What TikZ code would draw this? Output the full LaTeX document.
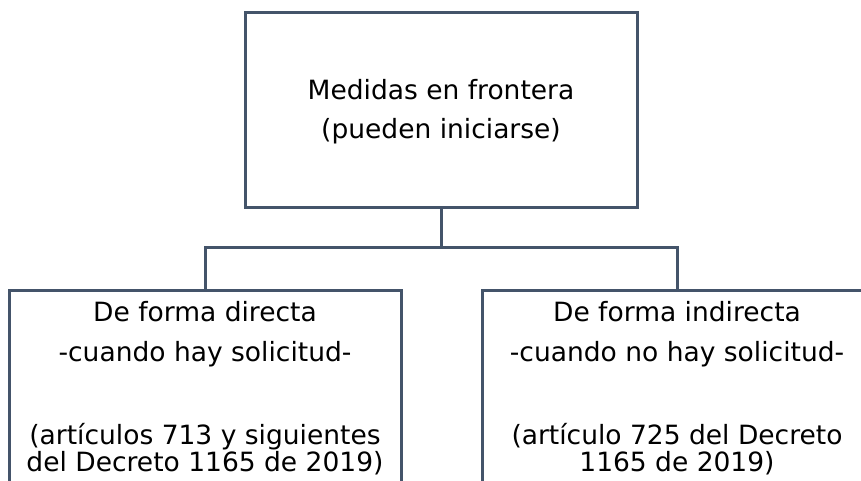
\documentclass[tikz,border=0pt]{standalone}
\usepackage{fontspec}
\setmainfont{DejaVu Sans}
\definecolor{edge}{HTML}{44546A}
\begin{document}
\begin{tikzpicture}[x=1pt,y=-1pt,
  boxstyle/.style={draw=edge,line width=3pt,fill=white,rectangle,inner sep=0pt},
  txtstyle/.style={inner sep=0pt,align=center,font=\fontsize{26.5}{27}\selectfont,text=black},
  conn/.style={draw=edge,line width=3pt}]
\useasboundingbox (0,0) rectangle (861,480);
\clip (0,0) rectangle (861,480);
\fill[white] (0,0) rectangle (861,480);
\node[boxstyle,minimum width=392pt,minimum height=195pt] (top) at (441,109.5) {};
\node[boxstyle,minimum width=392pt,minimum height=220pt] (lbox) at (205,400) {};
\node[boxstyle,minimum width=390pt,minimum height=220pt] (rbox) at (677,400) {};
\node[txtstyle,anchor=north] (ttxt) at (441,79) {Medidas en frontera\\[12pt](pueden iniciarse)};
\node[txtstyle,anchor=north] (ltxt) at (205,301) {De forma directa\\[13pt]-cuando hay solicitud-\\[56pt](artículos 713 y siguientes\\del Decreto 1165 de 2019)};
\node[txtstyle,anchor=north] (rtxt) at (677,301) {De forma indirecta\\[13pt]-cuando no hay solicitud-\\[56pt](artículo 725 del Decreto\\1165 de 2019)};
\coordinate (j) at (441,247);
\draw[conn] (top.south) -- (j);
\draw[conn] (j) -| (lbox.north);
\draw[conn] (j) -| (rbox.north);
\end{tikzpicture}
\end{document}
